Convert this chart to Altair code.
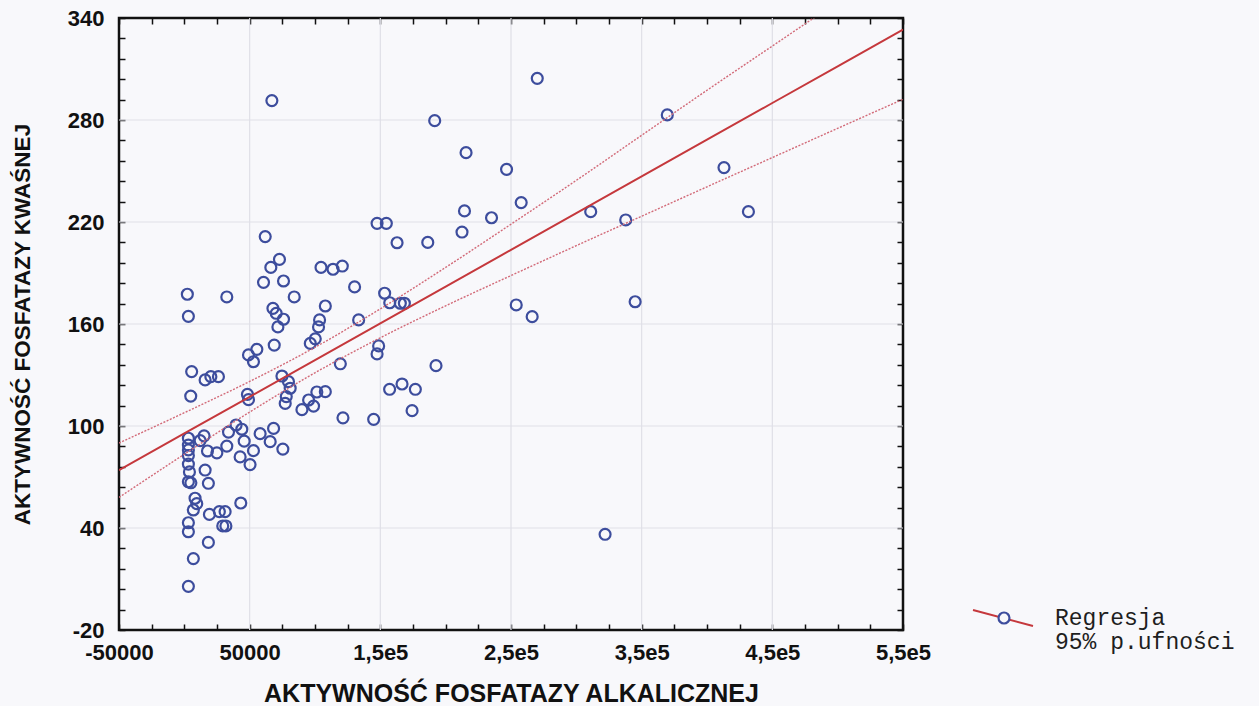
import altair as alt
import pandas as pd

# Alkaline phosphatase activity (x) and acid phosphatase activity (y) per sample
alk = [
    67000, 147500, 154600, 162800, 61900, 72800, 66200, 104600, 113800, 120900,
    60600, 75900, 130300, 153300, 2300, 32500, 84100, 157200, 165300, 168400,
    107900, 67800, 70300, 75900, 103500, 133400, 3100, 71600, 102700, 96400,
    100200, 68800, 49100, 55500, 52900, 5600, 15900, 20300, 26100, 4900,
    48300, 49100, 74700, 81000, 79700, 78000, 77200, 90000, 95100, 98900,
    101400, 107900, 119400, 148700, 147500, 121400, 144900, 157100, 166600, 176800,
    174300, 3100, 3100, 3100, 3100, 3100, 3900, 3100, 5000, 8200,
    9500, 6900, 3100, 3100, 6900, 3100, 15100, 12100, 17700, 24900,
    32500, 33800, 39600, 44000, 45800, 42700, 50300, 52900, 58000, 65700,
    68300, 75400, 15900, 18400, 19200, 26800, 31200, 29400, 31800, 43200,
    18400, 270100, 191600, 215600, 246600, 369600, 413000, 214400, 235100, 257800,
    212500, 186300, 311000, 337800, 431700, 254000, 266200, 345000, 192600, 322000,
]
acid = [
    291.4, 219.2, 219.2, 207.8, 211.4, 198.0, 193.3, 193.3, 192.2, 194.1,
    184.5, 185.3, 181.8, 178.1, 177.5, 175.9, 175.9, 172.5, 172.2, 172.2,
    170.6, 169.2, 166.3, 162.8, 162.4, 162.4, 164.5, 158.3, 158.3, 148.6,
    151.3, 147.6, 141.8, 145.1, 137.8, 132.0, 127.1, 129.0, 129.0, 117.6,
    118.6, 115.5, 129.4, 122.2, 126.1, 117.3, 113.3, 109.6, 115.3, 111.7,
    120.0, 120.2, 136.6, 147.1, 142.4, 104.8, 103.9, 121.6, 124.7, 121.6,
    109.0, 92.8, 88.8, 85.9, 82.6, 77.6, 73.0, 67.2, 66.6, 57.5,
    54.3, 50.6, 43.1, 37.8, 22.0, 5.7, 94.2, 91.4, 85.3, 84.2,
    88.2, 96.4, 100.6, 98.1, 91.1, 81.8, 77.3, 85.5, 95.5, 90.8,
    98.6, 86.4, 74.1, 66.3, 48.0, 49.6, 49.6, 41.2, 41.2, 54.7,
    31.5, 304.5, 279.6, 260.8, 251.0, 283.0, 252.0, 226.5, 222.5, 231.4,
    214.1, 208.0, 226.1, 221.2, 226.1, 171.2, 164.3, 173.1, 135.5, 36.3,
]

# Fitted regression line with its 95% confidence limits
fit_x = [-50000, 0, 50000, 100000, 150000, 200000, 250000,
         300000, 350000, 400000, 450000, 500000, 550000]
fit_y = [74.0, 95.6, 117.2, 138.8, 160.4, 182.0, 203.6,
         225.2, 246.8, 268.4, 290.0, 311.6, 333.2]
ci_upper = [90.0, 107.8, 126.2, 146.3, 168.9, 193.3, 218.7,
            244.5, 271.0, 297.5, 323.5, 349.5, 375.0]
ci_lower = [58.0, 83.4, 108.2, 131.3, 151.9, 170.7, 188.5,
            206.1, 223.4, 240.7, 257.9, 275.1, 292.2]

# Axis tick labels
x_major = [-50000, 50000, 150000, 250000, 350000, 450000, 550000]
x_major_labels = ["-50000", "50000", "1,5e5", "2,5e5", "3,5e5", "4,5e5", "5,5e5"]
y_major = [-20, 40, 100, 160, 220, 280, 340]
y_major_labels = ["-20", "40", "100", "160", "220", "280", "340"]
x_minor_step = 25000
y_minor_step = 12

legend_labels = ["Regresja", "95% p.ufności"]

X_DOMAIN = [x_major[0], x_major[-1]]
Y_DOMAIN = [y_major[0], y_major[-1]]

BG = "#f8f8fb"
INK = "#111111"
BLUE = "#3d4d9d"
RED = "#c5383c"
PINK = "#d26a78"
GRID = "#dfdfe7"
FONT = "Liberation Sans"

points = pd.DataFrame({"alk": alk, "acid": acid})
fit = pd.DataFrame({"alk": fit_x, "fit": fit_y, "upper": ci_upper, "lower": ci_lower})
x_ticks = list(range(X_DOMAIN[0], X_DOMAIN[1] + 1, x_minor_step))
y_ticks = list(range(Y_DOMAIN[0], Y_DOMAIN[1] + 1, y_minor_step))


def label_expr(values, labels):
    return "".join(f"datum.value == {v} ? '{t}' : " for v, t in zip(values, labels)) + "''"


xs = alt.Scale(domain=X_DOMAIN, nice=False, zero=False)
ys = alt.Scale(domain=Y_DOMAIN, nice=False, zero=False)

tick_style = dict(tickSize=6, tickWidth=1.5, tickColor=INK, offset=-6,
                  domain=False, grid=False, labelOverlap=False, labelFlush=False)

x_axis = alt.Axis(
    orient="bottom", values=x_ticks, labelExpr=label_expr(x_major, x_major_labels),
    labelPadding=12, labelFont=FONT, labelFontSize=22, labelFontWeight="bold",
    labelColor=INK, title="AKTYWNOŚĆ FOSFATAZY ALKALICZNEJ", titleFont=FONT,
    titleFontSize=25, titleFontWeight="bold", titleColor=INK,
    titleX=392, titleY=69, titleAlign="center", titleBaseline="middle",
    **tick_style,
)
y_axis = alt.Axis(
    orient="left", values=y_ticks, labelExpr=label_expr(y_major, y_major_labels),
    labelPadding=15, labelFont=FONT, labelFontSize=22, labelFontWeight="bold",
    labelColor=INK, title="AKTYWNOŚĆ FOSFATAZY KWAŚNEJ", titleFont=FONT,
    titleFontSize=22.5, titleFontWeight="bold", titleColor=INK, titleAngle=270,
    titleX=-103, titleY=306, titleAlign="center", titleBaseline="middle",
    **tick_style,
)
x_axis_top = alt.Axis(orient="top", values=x_ticks, labels=False, title=None, **tick_style)
y_axis_right = alt.Axis(orient="right", values=y_ticks, labels=False, title=None, **tick_style)

# Grid at major ticks
vgrid = alt.Chart(pd.DataFrame({"v": x_major[1:-1]})).mark_rule(
    color=GRID, strokeWidth=1.2
).encode(x=alt.X("v:Q", scale=xs, axis=None))
hgrid = alt.Chart(pd.DataFrame({"v": y_major[1:-1]})).mark_rule(
    color=GRID, strokeWidth=1.2
).encode(y=alt.Y("v:Q", scale=ys, axis=None))

# Mirror ticks on the top and right edges
frame_ticks = alt.Chart(points).mark_point(opacity=0).encode(
    x=alt.X("alk:Q", scale=xs, axis=x_axis_top),
    y=alt.Y("acid:Q", scale=ys, axis=y_axis_right),
)

scatter = alt.Chart(points).mark_point(
    shape="circle", filled=False, size=120, strokeWidth=2.2, color=BLUE, opacity=1
).encode(
    x=alt.X("alk:Q", scale=xs, axis=x_axis),
    y=alt.Y("acid:Q", scale=ys, axis=y_axis),
)

band_base = alt.Chart(fit).encode(x=alt.X("alk:Q", scale=xs, axis=None))
upper_line = band_base.mark_line(
    clip=True, color=PINK, strokeWidth=1.4, strokeDash=[2, 1.5], interpolate="monotone"
).encode(y=alt.Y("upper:Q", scale=ys, axis=None))
lower_line = band_base.mark_line(
    clip=True, color=PINK, strokeWidth=1.4, strokeDash=[2, 1.5], interpolate="monotone"
).encode(y=alt.Y("lower:Q", scale=ys, axis=None))
fit_line = band_base.mark_line(
    clip=True, color=RED, strokeWidth=2
).encode(y=alt.Y("fit:Q", scale=ys, axis=None))

# Legend drawn beside the plot: slanted line with a marker, then the two captions
legend_df = pd.DataFrame({"k": [0]})
legend_line = alt.Chart(legend_df).mark_rule(color=RED, strokeWidth=2).encode(
    x=alt.value(854), x2=alt.value(914), y=alt.value(592), y2=alt.value(608)
)
legend_marker = alt.Chart(legend_df).mark_point(
    shape="circle", filled=True, fill=BG, stroke=BLUE, strokeWidth=2.2, size=120, opacity=1
).encode(x=alt.value(885), y=alt.value(600))
legend_text = alt.Chart(legend_df).mark_text(
    align="left", baseline="alphabetic", font="Liberation Mono", fontSize=23,
    lineHeight=24, color="#1e1e1e"
).encode(x=alt.value(936), y=alt.value(607), text=alt.value(legend_labels))

chart = alt.layer(
    vgrid, hgrid, frame_ticks, scatter, lower_line, upper_line, fit_line,
    legend_line, legend_marker, legend_text,
).properties(
    width=784, height=612,
    padding={"left": 119, "top": 18, "right": 356, "bottom": 76},
    autosize=alt.AutoSizeParams(type="none"),
    background=BG,
).configure_view(stroke=INK, strokeWidth=2.5, fill=BG)

chart.save("out.html", embed_options={"renderer": "svg", "actions": False})
